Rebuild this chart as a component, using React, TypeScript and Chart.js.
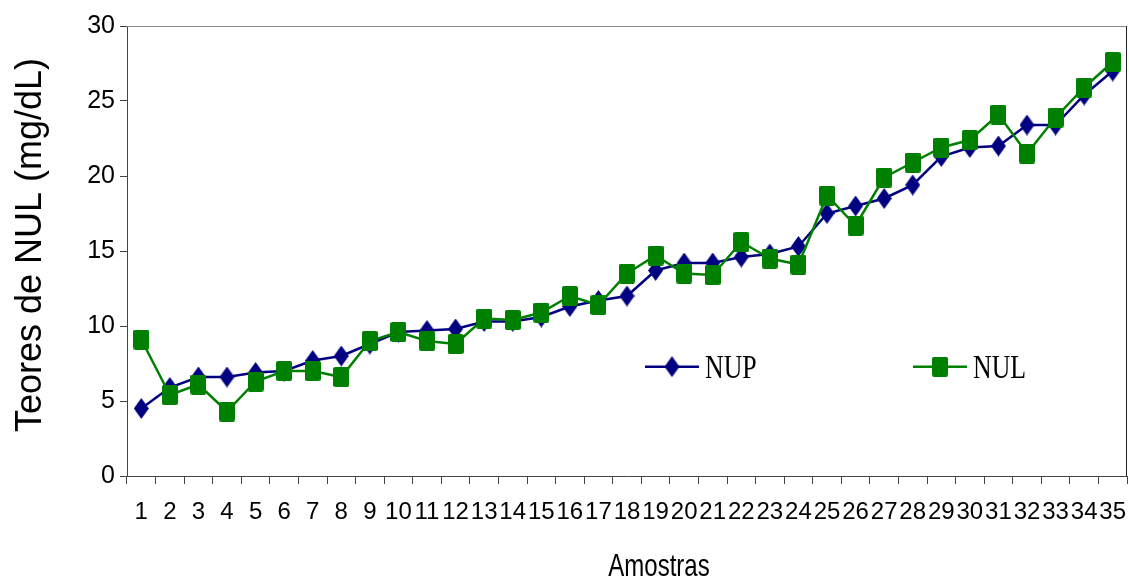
import { useEffect, useRef } from "react";
import { Chart, registerables } from "chart.js";

Chart.register(...registerables);

const categories = [
  "1", "2", "3", "4", "5", "6", "7", "8", "9", "10", "11", "12", "13", "14", "15", "16", "17", "18",
  "19", "20", "21", "22", "23", "24", "25", "26", "27", "28", "29", "30", "31", "32", "33", "34", "35",
];
const nupValues = [
  4.5, 5.9, 6.6, 6.6, 6.9, 7.0, 7.7, 8.0, 8.8, 9.6, 9.7, 9.8, 10.3, 10.3, 10.6, 11.3, 11.7, 12.0,
  13.7, 14.2, 14.2, 14.6, 14.8, 15.3, 17.5, 18.0, 18.5, 19.4, 21.3, 21.9, 22.0, 23.4, 23.4, 25.4, 27.0,
];
const nulValues = [
  9.1, 5.4, 6.1, 4.3, 6.3, 7.0, 7.0, 6.6, 9.0, 9.6, 9.0, 8.8, 10.5, 10.4, 10.9, 12.0, 11.4, 13.5,
  14.7, 13.5, 13.4, 15.6, 14.5, 14.1, 18.7, 16.7, 19.9, 20.9, 21.9, 22.4, 24.1, 21.5, 23.9, 25.9, 27.6,
];
const seriesNames = ["NUP", "NUL"];
const yMin = 0;
const yMax = 30;
const yStep = 5;
const yTitle = "Teores de NUL (mg/dL)";
const xTitle = "Amostras";

const NAVY = "#000080";
const GREEN = "#008000";

function makeDiamond(): HTMLCanvasElement {
  const c = document.createElement("canvas");
  c.width = 15;
  c.height = 21;
  const g = c.getContext("2d")!;
  g.fillStyle = NAVY;
  g.beginPath();
  g.moveTo(7.5, 0);
  g.lineTo(15, 10.5);
  g.lineTo(7.5, 21);
  g.lineTo(0, 10.5);
  g.closePath();
  g.fill();
  return c;
}

function makeSquare(): HTMLCanvasElement {
  const c = document.createElement("canvas");
  c.width = 16;
  c.height = 20;
  const g = c.getContext("2d")!;
  g.fillStyle = GREEN;
  g.beginPath();
  (g as any).roundRect(0, 0, 16, 20, 2);
  g.fill();
  return c;
}

export default function App() {
  const ref = useRef<HTMLCanvasElement | null>(null);

  useEffect(() => {
    document.body.style.margin = "0";
    const canvas = ref.current!;
    const diamond = makeDiamond();
    const square = makeSquare();
    const markers = [diamond, square];
    const colors = [NAVY, GREEN];

    const decor = {
      id: "decor",
      afterDraw(chart: any) {
        const { ctx, chartArea } = chart;
        const { left, right, top, bottom } = chartArea;
        ctx.save();
        // frame top/right
        ctx.lineWidth = 1;
        ctx.strokeStyle = "#8a8a8a";
        ctx.beginPath();
        ctx.moveTo(left, top + 0.5);
        ctx.lineTo(right, top + 0.5);
        ctx.stroke();
        ctx.strokeStyle = "#222";
        ctx.beginPath();
        ctx.moveTo(right - 0.5, top);
        ctx.lineTo(right - 0.5, bottom);
        ctx.stroke();

        // y title
        ctx.fillStyle = "#000";
        ctx.save();
        ctx.translate(28, 245);
        ctx.rotate(-Math.PI / 2);
        ctx.font = "36px 'Liberation Sans', Arial, sans-serif";
        ctx.textAlign = "center";
        ctx.textBaseline = "alphabetic";
        ctx.fillText(yTitle, 0, 0.358 * 36);
        ctx.restore();

        // x title
        ctx.save();
        ctx.translate(659, 565);
        ctx.scale(0.75, 1);
        ctx.font = "32px 'Liberation Sans', Arial, sans-serif";
        ctx.textAlign = "center";
        ctx.textBaseline = "alphabetic";
        ctx.fillText(xTitle, 0, 0.358 * 32);
        ctx.restore();

        // legend
        const w = right - left;
        const h = bottom - top;
        const ly = top + h * 0.757;
        const starts = [left + w * 0.518, left + w * 0.786];
        seriesNames.forEach((name, i) => {
          const x0 = starts[i];
          const x1 = x0 + 54;
          ctx.strokeStyle = colors[i];
          ctx.lineWidth = 2.5;
          ctx.beginPath();
          ctx.moveTo(x0, ly);
          ctx.lineTo(x1, ly);
          ctx.stroke();
          const m = markers[i];
          ctx.drawImage(m, (x0 + x1) / 2 - m.width / 2, ly - m.height / 2);
          ctx.save();
          ctx.translate(x1 + 6, ly + 11);
          ctx.scale(0.76, 1);
          ctx.fillStyle = "#000";
          ctx.font = "34px 'Liberation Serif', 'Times New Roman', serif";
          ctx.textAlign = "left";
          ctx.textBaseline = "alphabetic";
          ctx.fillText(name, 0, 0);
          ctx.restore();
        });
        ctx.restore();
      },
    };

    const chart = new Chart(canvas, {
      type: "line",
      data: {
        labels: categories,
        datasets: [
          {
            label: seriesNames[0],
            data: nupValues,
            borderColor: NAVY,
            backgroundColor: NAVY,
            borderWidth: 2.5,
            pointStyle: diamond as any,
            pointRadius: 8,
            tension: 0,
            order: 1,
          },
          {
            label: seriesNames[1],
            data: nulValues,
            borderColor: GREEN,
            backgroundColor: GREEN,
            borderWidth: 2.5,
            pointStyle: square as any,
            pointRadius: 8,
            tension: 0,
            order: 0,
          },
        ],
      },
      options: {
        responsive: false,
        animation: false,
        layout: { autoPadding: false, padding: { top: 26, right: 2, left: 0, bottom: 0 } },
        plugins: {
          legend: { display: false },
          tooltip: { enabled: false },
          title: { display: false },
        },
        scales: {
          x: {
            type: "category",
            offset: true,
            grid: {
              offset: true,
              drawOnChartArea: false,
              drawTicks: true,
              tickLength: 8,
              color: "#444",
            },
            border: { display: true, color: "#444", width: 1 },
            ticks: {
              color: "#000",
              font: { family: "'Liberation Sans', Arial, sans-serif", size: 24 },
              padding: 14,
              maxRotation: 0,
              autoSkip: false,
            },
            afterFit(scale: any) {
              scale.height = 105;
              scale.paddingLeft = 0;
              scale.paddingRight = 0;
            },
          },
          y: {
            min: yMin,
            max: yMax,
            grid: {
              drawOnChartArea: false,
              drawTicks: true,
              tickLength: 7,
              color: "#444",
            },
            border: { display: true, color: "#444", width: 1 },
            ticks: {
              stepSize: yStep,
              color: "#000",
              font: { family: "'Liberation Sans', Arial, sans-serif", size: 25 },
              padding: 5,
            },
            afterFit(scale: any) {
              scale.width = 127;
              scale.paddingTop = 0;
              scale.paddingBottom = 0;
            },
          },
        },
      },
      plugins: [decor],
    });

    return () => {
      chart.destroy();
    };
  }, []);

  return (
    <div style={{ width: 1129, height: 581 }}>
      <canvas ref={ref} width={1129} height={581} style={{ display: "block" }} />
    </div>
  );
}
